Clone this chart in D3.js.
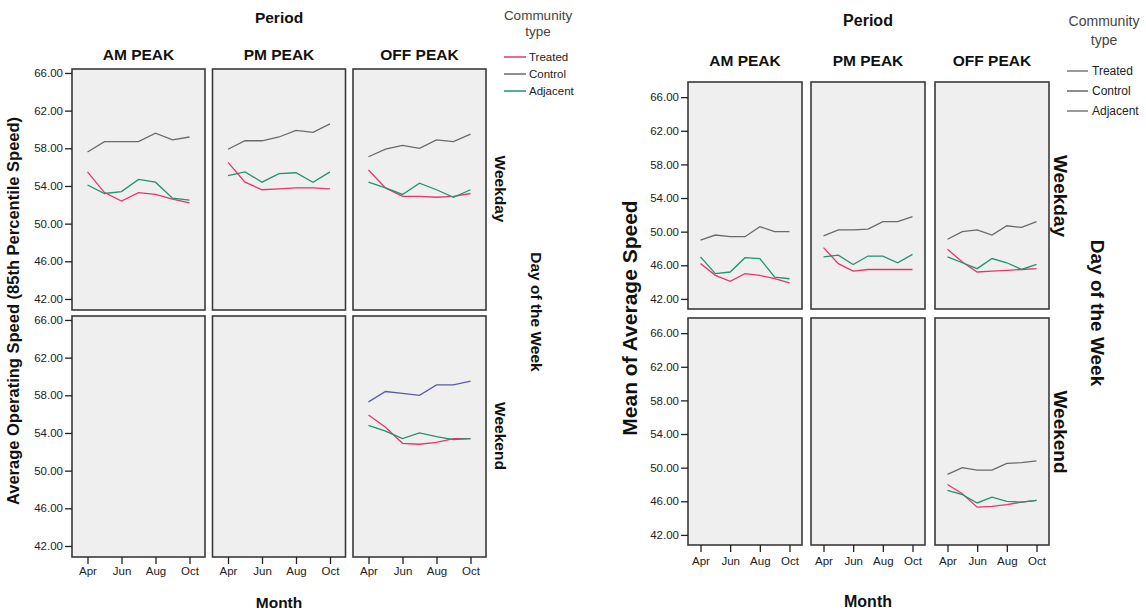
<!DOCTYPE html>
<html>
<head>
<meta charset="utf-8">
<script src="https://cdn.jsdelivr.net/npm/d3@7"></script>
<style>
  body { margin: 0; background: #fff; }
  svg { display: block; font-family: "Liberation Sans", Arial, sans-serif; }
</style>
</head>
<body>
<svg id="chart" width="1146" height="613"></svg>
<script>

// categories
const months = ["Apr", "May", "Jun", "Jul", "Aug", "Sep", "Oct"];
const monthTicks = ["Apr", "Jun", "Aug", "Oct"];
const periods = ["AM PEAK", "PM PEAK", "OFF PEAK"];
const days = ["Weekday", "Weekend"];
const communityTypes = ["Treated", "Control", "Adjacent"];
const yTicks = [42, 46, 50, 54, 58, 62, 66];

// left chart: average operating speed (85th percentile)
const op85WeekdayAmTreated  = [55.5, 53.3, 52.4, 53.3, 53.1, 52.6, 52.2];
const op85WeekdayAmControl  = [57.6, 58.7, 58.7, 58.7, 59.6, 58.9, 59.2];
const op85WeekdayAmAdjacent = [54.1, 53.2, 53.4, 54.7, 54.4, 52.7, 52.5];
const op85WeekdayPmTreated  = [56.5, 54.4, 53.6, 53.7, 53.8, 53.8, 53.7];
const op85WeekdayPmControl  = [57.9, 58.8, 58.8, 59.2, 59.9, 59.7, 60.6];
const op85WeekdayPmAdjacent = [55.1, 55.5, 54.4, 55.3, 55.4, 54.4, 55.5];
const op85WeekdayOffTreated  = [55.7, 53.8, 52.9, 52.9, 52.8, 52.9, 53.2];
const op85WeekdayOffControl  = [57.1, 57.9, 58.3, 58.0, 58.9, 58.7, 59.5];
const op85WeekdayOffAdjacent = [54.4, 53.8, 53.1, 54.3, 53.6, 52.8, 53.6];
const op85WeekendOffTreated  = [55.9, 54.6, 52.9, 52.8, 53.0, 53.4, 53.4];
const op85WeekendOffControl  = [57.3, 58.4, 58.2, 58.0, 59.1, 59.1, 59.5];
const op85WeekendOffAdjacent = [54.8, 54.2, 53.4, 54.0, 53.6, 53.3, 53.4];

// right chart: mean of average speed
const meanWeekdayAmTreated  = [46.2, 44.8, 44.1, 45.0, 44.8, 44.4, 43.9];
const meanWeekdayAmControl  = [49.0, 49.6, 49.4, 49.4, 50.6, 50.0, 50.0];
const meanWeekdayAmAdjacent = [47.0, 45.0, 45.2, 46.9, 46.8, 44.6, 44.4];
const meanWeekdayPmTreated  = [48.1, 46.2, 45.3, 45.5, 45.5, 45.5, 45.5];
const meanWeekdayPmControl  = [49.5, 50.2, 50.2, 50.3, 51.2, 51.2, 51.8];
const meanWeekdayPmAdjacent = [47.0, 47.2, 46.1, 47.1, 47.1, 46.3, 47.3];
const meanWeekdayOffTreated  = [47.9, 46.4, 45.2, 45.3, 45.4, 45.5, 45.6];
const meanWeekdayOffControl  = [49.1, 50.0, 50.2, 49.6, 50.7, 50.5, 51.2];
const meanWeekdayOffAdjacent = [47.0, 46.3, 45.6, 46.8, 46.3, 45.5, 46.1];
const meanWeekendOffTreated  = [48.0, 46.9, 45.3, 45.4, 45.6, 45.9, 46.1];
const meanWeekendOffControl  = [49.2, 50.0, 49.7, 49.7, 50.5, 50.6, 50.8];
const meanWeekendOffAdjacent = [47.3, 46.8, 45.8, 46.5, 46.0, 45.9, 46.1];

function row(day, period, type, values) {
	return {day: day, period: period, type: type, values: values};
}

const op85Series = [
	row("Weekday", "AM PEAK", "Treated", op85WeekdayAmTreated),
	row("Weekday", "AM PEAK", "Control", op85WeekdayAmControl),
	row("Weekday", "AM PEAK", "Adjacent", op85WeekdayAmAdjacent),
	row("Weekday", "PM PEAK", "Treated", op85WeekdayPmTreated),
	row("Weekday", "PM PEAK", "Control", op85WeekdayPmControl),
	row("Weekday", "PM PEAK", "Adjacent", op85WeekdayPmAdjacent),
	row("Weekday", "OFF PEAK", "Treated", op85WeekdayOffTreated),
	row("Weekday", "OFF PEAK", "Control", op85WeekdayOffControl),
	row("Weekday", "OFF PEAK", "Adjacent", op85WeekdayOffAdjacent),
	row("Weekend", "OFF PEAK", "Treated", op85WeekendOffTreated),
	row("Weekend", "OFF PEAK", "Control", op85WeekendOffControl),
	row("Weekend", "OFF PEAK", "Adjacent", op85WeekendOffAdjacent)
];

const meanSeries = [
	row("Weekday", "AM PEAK", "Treated", meanWeekdayAmTreated),
	row("Weekday", "AM PEAK", "Control", meanWeekdayAmControl),
	row("Weekday", "AM PEAK", "Adjacent", meanWeekdayAmAdjacent),
	row("Weekday", "PM PEAK", "Treated", meanWeekdayPmTreated),
	row("Weekday", "PM PEAK", "Control", meanWeekdayPmControl),
	row("Weekday", "PM PEAK", "Adjacent", meanWeekdayPmAdjacent),
	row("Weekday", "OFF PEAK", "Treated", meanWeekdayOffTreated),
	row("Weekday", "OFF PEAK", "Control", meanWeekdayOffControl),
	row("Weekday", "OFF PEAK", "Adjacent", meanWeekdayOffAdjacent),
	row("Weekend", "OFF PEAK", "Treated", meanWeekendOffTreated),
	row("Weekend", "OFF PEAK", "Control", meanWeekendOffControl),
	row("Weekend", "OFF PEAK", "Adjacent", meanWeekendOffAdjacent)
];

const lineColors = {Treated: "#e8356b", Control: "#6a6a6a", Adjacent: "#1e9470"};

const leftCfg = {
	panelX: [72, 212.5, 353], panelW: 133,
	panelY: [69, 316], panelH: 241,
	yDomain: [40.83, 66.42], xRange: [15.5, 117.5],
	tickPad: 3,
	yTitle: "Average Operating Speed (85th Percentile Speed)",
	yTitlePos: [13, 311], yTitleSize: 16.5,
	periodPos: [279, 18], periodSize: 15.5,
	facetY: 55, facetSize: 15.5, facetSx: 1,
	stripX: 500, stripY: [189, 436], stripSize: 15.5,
	dowPos: [536, 312],
	monthPos: [279, 603], monthSize: 15.5,
	legend: {cx: 538, titleY: [15, 31], titleSize: 13.5, itemY: [57, 74, 91], x1: 504, x2: 526, tx: 529, size: 11.5},
	legendColors: lineColors,
	colorOverride: {"Weekend|OFF PEAK|Control": "#5a5aa8"}
};

const rightCfg = {
	panelX: [688, 811, 935], panelW: 114,
	panelY: [82, 318], panelH: 227,
	yDomain: [40.8, 67.8], xRange: [12.5, 101.5],
	tickPad: 5,
	yTitle: "Mean of Average Speed",
	yTitlePos: [630, 318], yTitleSize: 21,
	periodPos: [868, 20], periodSize: 16,
	facetY: 61, facetSize: 15.5, facetSx: 1,
	stripX: 1061, stripY: [196, 432], stripSize: 19,
	dowPos: [1098, 313],
	monthPos: [868, 601], monthSize: 16,
	legend: {cx: 1104, titleY: [21, 40], titleSize: 14, itemY: [71, 91, 111], x1: 1067, x2: 1088, tx: 1092, size: 12},
	legendColors: {Treated: "#777", Control: "#666", Adjacent: "#777"},
	colorOverride: {}
};

function label(parent, x, y, str, size, weight, rotate, sx) {
	let g = parent.append("g")
		.attr("transform", "translate(" + x + "," + y + ") rotate(" + (rotate || 0) + ") scale(" + (sx || 1) + ",1)");
	return g.append("text")
		.attr("text-anchor", "middle")
		.attr("dy", "0.35em")
		.style("font-size", size + "px")
		.style("font-weight", weight)
		.attr("fill", "#111")
		.text(str);
}

function drawChart(svg, cfg, series) {
	let chart = svg.append("g");
	let x = d3.scalePoint().domain(months).range(cfg.xRange);
	let y = d3.scaleLinear().domain(cfg.yDomain).range([cfg.panelH, 0]);
	let line = d3.line()
		.x((v, i) => x(months[i]))
		.y(v => y(v));

	periods.forEach((period, pi) => {
		days.forEach((day, di) => {
			let panel = chart.append("g")
				.attr("transform", "translate(" + cfg.panelX[pi] + "," + cfg.panelY[di] + ")");
			panel.append("rect")
				.attr("width", cfg.panelW)
				.attr("height", cfg.panelH)
				.attr("fill", "#efefef");

			let rows = series.filter(s => s.day === day && s.period === period);
			for (let s of rows) {
				let key = day + "|" + period + "|" + s.type;
				panel.append("path")
					.attr("d", line(s.values))
					.attr("fill", "none")
					.attr("stroke", cfg.colorOverride[key] || lineColors[s.type])
					.attr("stroke-width", 1.3);
			}

			panel.append("rect")
				.attr("width", cfg.panelW)
				.attr("height", cfg.panelH)
				.attr("fill", "none")
				.attr("stroke", "#3a3a3a")
				.attr("stroke-width", 1.6);

			if (pi === 0) {
				let ax = panel.append("g")
					.call(d3.axisLeft(y).tickValues(yTicks).tickFormat(d3.format(".2f")).tickSize(7).tickPadding(2));
				styleAxis(ax);
			}
			if (di === 1) {
				let ax = panel.append("g")
					.attr("transform", "translate(0," + cfg.panelH + ")")
					.call(d3.axisBottom(x).tickValues(monthTicks).tickSize(7).tickPadding(cfg.tickPad));
				styleAxis(ax);
			}
			if (di === 0)
				label(chart, cfg.panelX[pi] + cfg.panelW / 2, cfg.facetY, period, cfg.facetSize, "bold", 0, cfg.facetSx);
		});
	});

	label(chart, cfg.periodPos[0], cfg.periodPos[1], "Period", cfg.periodSize, "bold");
	label(chart, cfg.monthPos[0], cfg.monthPos[1], "Month", cfg.monthSize, "bold");
	label(chart, cfg.yTitlePos[0], cfg.yTitlePos[1], cfg.yTitle, cfg.yTitleSize, "bold", -90);
	days.forEach((day, di) => label(chart, cfg.stripX, cfg.stripY[di], day, cfg.stripSize, "bold", 90));
	label(chart, cfg.dowPos[0], cfg.dowPos[1], "Day of the Week", cfg.stripSize, "bold", 90);

	// legend
	let lg = cfg.legend;
	label(chart, lg.cx, lg.titleY[0], "Community", lg.titleSize, "normal").attr("fill", "#444");
	label(chart, lg.cx, lg.titleY[1], "type", lg.titleSize, "normal").attr("fill", "#444");
	communityTypes.forEach((t, i) => {
		chart.append("line")
			.attr("x1", lg.x1).attr("x2", lg.x2)
			.attr("y1", lg.itemY[i]).attr("y2", lg.itemY[i])
			.attr("stroke", cfg.legendColors[t])
			.attr("stroke-width", 1.5);
		chart.append("text")
			.attr("x", lg.tx).attr("y", lg.itemY[i])
			.attr("dy", "0.35em")
			.style("font-size", lg.size + "px")
			.attr("fill", "#222")
			.text(t);
	});
}

function styleAxis(ax) {
	ax.select(".domain").remove();
	ax.selectAll(".tick line").attr("stroke", "#222").attr("stroke-width", 1.3);
	ax.selectAll(".tick text")
		.attr("fill", "#222")
		.style("font-size", "11.5px")
		.style("font-family", "'Liberation Sans', Arial, sans-serif");
}

let svg = d3.select("#chart");
drawChart(svg, leftCfg, op85Series);
drawChart(svg, rightCfg, meanSeries);

</script>
</body>
</html>
